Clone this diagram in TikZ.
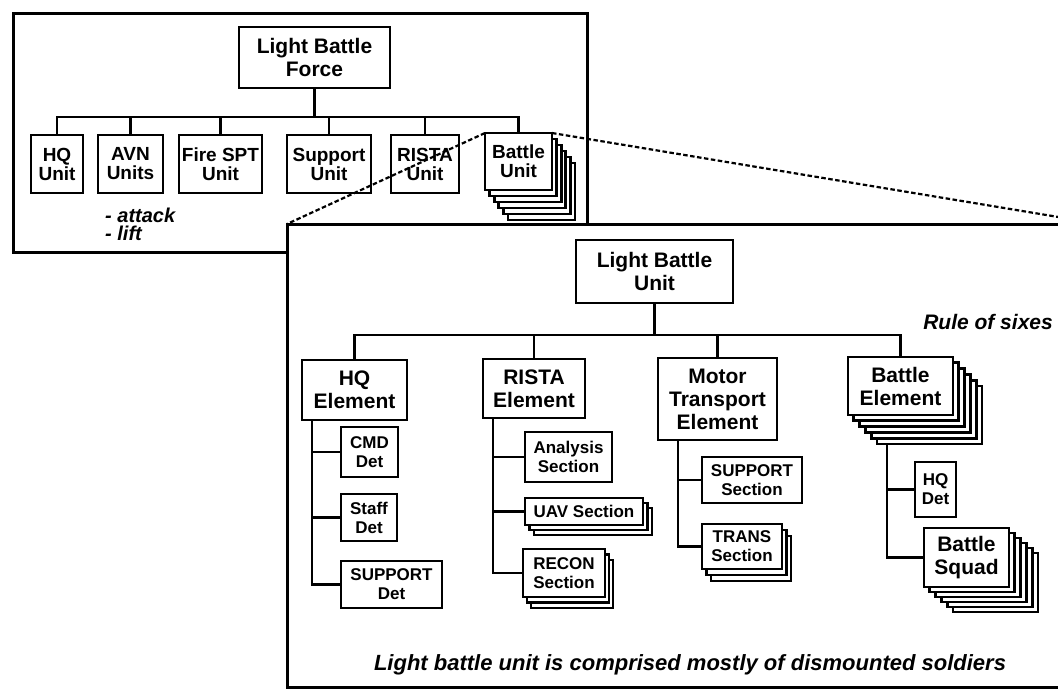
\documentclass[tikz,border=0pt]{standalone}
\usepackage{fontspec}
\setmainfont{Liberation Sans}
\begin{document}
\begin{tikzpicture}[x=1pt,y=-1pt,
  frame/.style={draw, line width=3pt},
  box/.style={draw, line width=2.8pt, fill=white, align=center, inner sep=0pt, outer sep=0pt, anchor=north west},
  big/.style={font=\fontsize{21}{23}\selectfont\bfseries},
  mid/.style={font=\fontsize{19}{19}\selectfont\bfseries},
  small/.style={font=\fontsize{17}{19}\selectfont\bfseries},
  note/.style={font=\fontsize{20}{20}\selectfont\bfseries\itshape, inner sep=0pt},
  conn/.style={draw, line width=2.8pt},
  zoomline/.style={draw, line width=2.2pt, dash pattern=on 4.5pt off 2.5pt},
  sh/.style={preaction={draw, fill=white, transform canvas={shift={#1}}}},
  stackfive/.style 2 args={sh={(5*#1,5*#2)}, sh={(4*#1,4*#2)}, sh={(3*#1,3*#2)}, sh={(2*#1,2*#2)}, sh={(#1,#2)}},
  stacktwo/.style 2 args={sh={(2*#1,2*#2)}, sh={(#1,#2)}}
]
\useasboundingbox[fill=white] (0,0) rectangle (1058,689);

% ---------- upper frame ----------
\draw[frame] (13,13) rectangle (587,252);
\node[box, big, minimum width=151pt, minimum height=61pt] (lbf) at (239,27) {Light Battle\\Force};
\node[box, mid, minimum width=52pt, minimum height=58pt] (hqu) at (31,135) {HQ\\Unit};
\node[box, mid, minimum width=65pt, minimum height=58pt] (avn) at (98,135) {AVN\\Units};
\node[box, mid, minimum width=83pt, minimum height=58pt] (fire) at (179,135) {Fire SPT\\Unit};
\node[box, mid, minimum width=84pt, minimum height=58pt] (supu) at (287,135) {Support\\Unit};
\node[box, mid, minimum width=68pt, minimum height=58pt] (risu) at (391,135) {RISTA\\Unit};
\node[box, mid, minimum width=67pt, minimum height=57pt, stackfive={4.6}{6}] (bu) at (485,133) {Battle\\Unit};
\foreach \c in {hqu,avn,fire,supu,risu,bu}
  \draw[conn] (lbf.south) -- ++(0,29) -| (\c.north);
\node[note, anchor=west] (att) at (105,215) {- attack};
\node[note, anchor=west] (lift) at (105,233) {- lift};

% ---------- lower frame ----------
\draw[frame, fill=white] (287,224) rectangle (1075,687);
\coordinate (lowtl) at (287,224);
\coordinate (rightend) at (1062,217.6);
\draw[zoomline] (bu.north west) -- (lowtl);
\draw[zoomline] (bu.north east) -- (rightend);

\node[box, big, minimum width=157pt, minimum height=63pt] (lbu) at (576,240) {Light Battle\\Unit};
\node[note, font=\fontsize{21}{21}\selectfont\bfseries\itshape, anchor=east] (rule) at (1053,322) {Rule of sixes};

\node[box, big, minimum width=105pt, minimum height=60pt] (hqe) at (302,360) {HQ\\Element};
\node[box, big, minimum width=102pt, minimum height=59pt] (rie) at (483,359) {RISTA\\Element};
\node[box, big, minimum width=119pt, minimum height=82pt] (mte) at (658,358) {Motor\\Transport\\Element};
\node[box, big, minimum width=105pt, minimum height=58pt, stackfive={5.8}{5.8}] (bee) at (848,357) {Battle\\Element};
\foreach \c in {hqe,rie,mte,bee}
  \draw[conn] (lbu.south) -- ++(0,32) -| (\c.north);

% HQ element
\node[box, small, minimum width=57pt, minimum height=50pt] (cmd) at (341,427) {CMD\\Det};
\node[box, small, minimum width=56pt, minimum height=47pt] (staff) at (341,494) {Staff\\Det};
\node[box, small, minimum width=101pt, minimum height=47pt] (supdet) at (341,561) {SUPPORT\\Det};
\coordinate (hqt) at ([xshift=10pt]hqe.south west);
\foreach \c in {cmd,staff,supdet}
  \draw[conn] (hqt) |- (\c.west);

% RISTA element
\node[box, small, minimum width=87pt, minimum height=50pt] (ana) at (525,432) {Analysis\\Section};
\node[box, small, minimum width=118pt, minimum height=27pt, stacktwo={4.5}{5}] (uav) at (525,498) {UAV Section};
\node[box, small, minimum width=82pt, minimum height=48pt, stacktwo={4}{5.5}] (recon) at (523,549) {RECON\\Section};
\coordinate (rit) at ([xshift=10pt]rie.south west);
\foreach \c in {ana,uav,recon}
  \draw[conn] (rit) |- (\c.west);

% Motor transport element
\node[box, small, minimum width=100pt, minimum height=46pt] (supsec) at (702,457) {SUPPORT\\Section};
\node[box, small, minimum width=80pt, minimum height=45pt, stacktwo={4.5}{6}] (trans) at (702,524) {TRANS\\Section};
\coordinate (mtt) at ([xshift=20pt]mte.south west);
\foreach \c in {supsec,trans}
  \draw[conn] (mtt) |- (\c.west);

% Battle element
\node[box, small, minimum width=41pt, minimum height=55pt] (hqdet) at (915,462) {HQ\\Det};
\node[box, big, minimum width=85pt, minimum height=59pt, stackfive={5.8}{5}] (squad) at (924,528) {Battle\\Squad};
\coordinate (bet) at ([shift={(39,29)}]bee.south west);
\foreach \c in {hqdet,squad}
  \draw[conn] (bet) |- (\c.west);

\node[note, font=\fontsize{22}{22}\selectfont\bfseries\itshape] (foot) at (690,665) {Light battle unit is comprised mostly of dismounted soldiers};
\end{tikzpicture}
\end{document}
